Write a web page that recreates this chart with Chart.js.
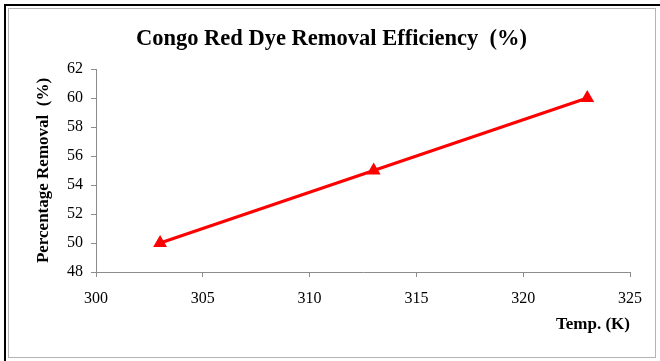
<!DOCTYPE html>
<html>
<head>
<meta charset="utf-8">
<script src="https://cdn.jsdelivr.net/npm/chart.js@4"></script>
<style>
    html, body { margin: 0; padding: 0; background: #fff; overflow: hidden; }
    #wrap { position: relative; width: 660px; height: 361px; overflow: hidden; }
    #frame1 { position: absolute; left: 4px; top: 4px; width: 656px; height: 357px; border-left: 2px solid #000; border-top: 2px solid #000; box-sizing: border-box; pointer-events: none; }
    #frame2 { position: absolute; left: 8px; top: 8px; width: 648px; height: 350px; border: 1px solid #b4b4b4; box-sizing: border-box; pointer-events: none; }
</style>
</head>
<body>
<div id="wrap">
    <canvas id="chart" width="660" height="361"></canvas>
    <div id="frame1"></div>
    <div id="frame2"></div>
</div>
<script>
(function () {
    "use strict";

    // Data
    const temps = [303, 313, 323];
    const removal = [50, 55, 60];
    const xTicks = [300, 305, 310, 315, 320, 325];
    const yTicks = [48, 50, 52, 54, 56, 58, 60, 62];

    const serif = "'Liberation Serif', 'Times New Roman', serif";
    const points = temps.map((t, i) => ({ x: t, y: removal[i] }));

    new Chart(document.getElementById("chart").getContext("2d"), {
        type: "scatter",
        data: {
            datasets: [
                {
                    data: points,
                    showLine: true,
                    borderColor: "#ff0000",
                    backgroundColor: "#ff0000",
                    borderWidth: 3,
                    pointStyle: "triangle",
                    pointRadius: 5,
                    tension: 0,
                },
            ],
        },
        options: {
            responsive: false,
            animation: false,
            layout: {
                padding: { left: 33, right: 30, top: 10, bottom: 10 },
            },
            plugins: {
                legend: { display: false },
                tooltip: { enabled: false },
                title: {
                    display: true,
                    text: "Congo Red Dye Removal Efficiency  (%)",
                    color: "#000",
                    font: { family: serif, size: 22.5, weight: "bold" },
                    padding: { top: 16, bottom: 16 },
                },
            },
            scales: {
                x: {
                    type: "linear",
                    min: xTicks[0],
                    max: xTicks[xTicks.length - 1],
                    afterBuildTicks: (axis) => {
                        axis.ticks = xTicks.map((v) => ({ value: v }));
                    },
                    afterFit: (axis) => {
                        axis.height = 79;
                    },
                    ticks: {
                        color: "#000",
                        font: { family: serif, size: 16 },
                        padding: 12,
                        maxRotation: 0,
                    },
                    grid: {
                        drawOnChartArea: false,
                        drawTicks: true,
                        tickLength: 5,
                        color: "#8c8c8c",
                    },
                    border: { color: "#8c8c8c", width: 1 },
                    title: {
                        display: true,
                        text: "Temp. (K)",
                        align: "end",
                        color: "#000",
                        font: { family: serif, size: 17, weight: "bold" },
                        padding: { top: 0, bottom: 16 },
                    },
                },
                y: {
                    min: yTicks[0],
                    max: yTicks[yTicks.length - 1],
                    afterBuildTicks: (axis) => {
                        axis.ticks = yTicks.map((v) => ({ value: v }));
                    },
                    afterFit: (axis) => {
                        axis.width = 63;
                    },
                    ticks: {
                        color: "#000",
                        font: { family: serif, size: 16 },
                        padding: 8,
                    },
                    grid: {
                        drawOnChartArea: false,
                        drawTicks: true,
                        tickLength: 5,
                        color: "#8c8c8c",
                    },
                    border: { color: "#8c8c8c", width: 1 },
                    title: {
                        display: true,
                        text: "Percentage Removal  (%)",
                        color: "#000",
                        font: { family: serif, size: 17, weight: "bold" },
                        padding: { top: 0, bottom: 0 },
                    },
                },
            },
        },
    });
})();
</script>
</body>
</html>
